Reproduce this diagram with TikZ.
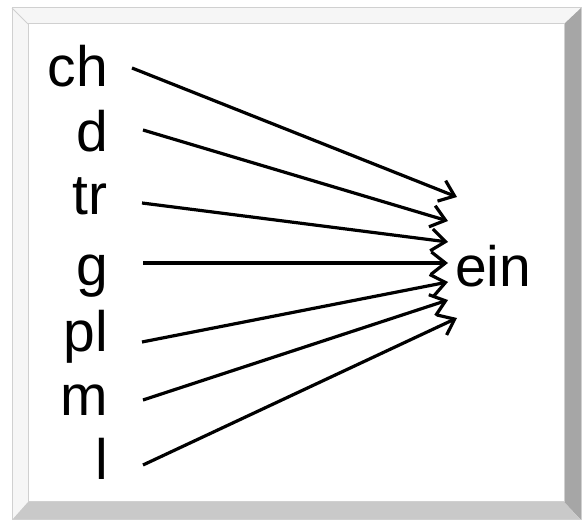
\documentclass[tikz,border=0pt]{standalone}
\usepackage{fontspec}
\setmainfont{Liberation Sans}
\usetikzlibrary{arrows.meta}

\definecolor{bevellight}{HTML}{F6F6F6}
\definecolor{bevelright}{HTML}{A6A6A6}
\definecolor{bevelbottom}{HTML}{C9C9C9}
\definecolor{beveledge}{HTML}{D0D0D0}

\tikzset{
  lab/.style={inner sep=0pt,font=\fontsize{57}{60}\selectfont},
  arr/.style={line width=3.2pt,-{Straight Barb[length=14pt,width=22pt,line width=3.2pt]}}
}

\begin{document}
\begin{tikzpicture}[x=1pt,y=-1pt]
\useasboundingbox (0,0) rectangle (587,521);

% beveled frame
\fill[bevellight] (12,8) -- (581,8) -- (564,24) -- (28,24) -- cycle;
\fill[bevellight] (12,8) -- (28,24) -- (28,502) -- (12,520) -- cycle;
\fill[bevelright] (581,8) -- (581,520) -- (564,502) -- (564,24) -- cycle;
\fill[bevelbottom] (12,520) -- (28,502) -- (564,502) -- (581,520) -- cycle;
\draw[beveledge,line width=1pt] (12,8) rectangle (581,520);
\draw[beveledge,line width=1pt] (28,24) rectangle (564,502);
\draw[beveledge,line width=0.8pt] (12,8) -- (28,24);

\node[lab,anchor=base west] (ein) at (455,287) {ein};

\foreach \n/\b/\sx/\sy/\ex/\ey in {ch/87/24/19/2/90, d/152/35/22/-7/66,
    tr/215/34/12/-7/45, g/286/35/23/-7/24, pl/352/34/10/-7/5,
    m/416/35/16/-7/-13, l/480/35/15/2/-31}
{
  \node[lab,anchor=base east] (\n) at (108,\b) {\n};
  \draw[arr] ([xshift=\sx pt,yshift=\sy pt]\n.base east)
    -- ([xshift=\ex pt,yshift=\ey pt]ein.base west);
}
\end{tikzpicture}
\end{document}
